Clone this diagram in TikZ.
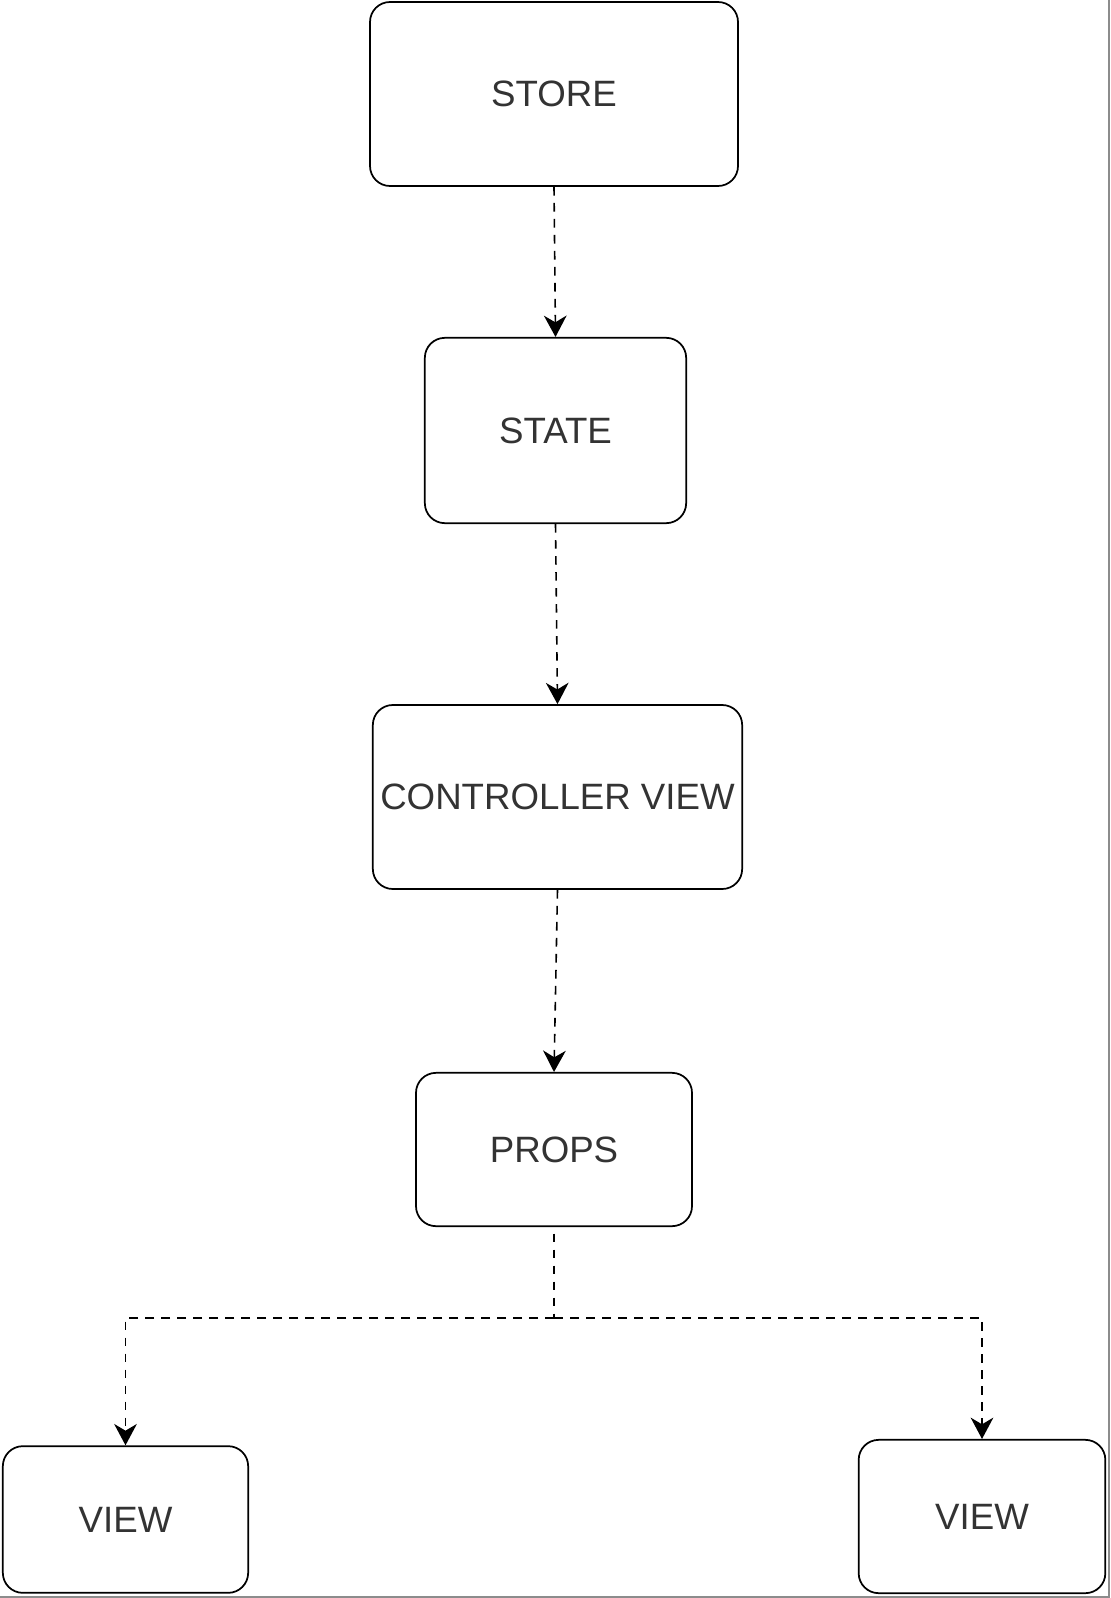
\documentclass[tikz,border=0pt]{standalone}
\usepackage{fontspec}
\setmainfont{Liberation Sans}
\usetikzlibrary{arrows.meta}

\begin{document}
\begin{tikzpicture}[x=0.75pt,y=-0.75pt,
    block/.style={draw=black,line width=1.3pt,rounded corners=15pt,
        inner sep=0pt,text=black!80,font=\fontsize{27.5}{30}\selectfont},
    flow/.style={draw=black,line width=1.2pt,dash pattern=on 6.5pt off 5.5pt,
        -{Stealth[length=16pt,width=17pt,inset=5pt]}}]
    \useasboundingbox (0,0) rectangle (1110,1598);
    \draw[black!45,line width=1pt] (1109,0) -- (1109,1597) -- (0,1597);
    \node[block,minimum width=276pt,minimum height=138pt] (store) at (554,94) {STORE};
    \node[block,minimum width=196pt,minimum height=139pt] (state) at (555.5,430.5) {STATE};
    \node[block,minimum width=277pt,minimum height=138pt] (ctrl) at (557.5,797) {CONTROLLER VIEW};
    \node[block,minimum width=207pt,minimum height=115pt] (props) at (554,1149.5) {PROPS};
    \node[block,minimum width=184pt,minimum height=110pt] (viewl) at (125.5,1519.5) {VIEW};
    \node[block,minimum width=185pt,minimum height=115pt] (viewr) at (982,1516.5) {VIEW};
    \coordinate (split) at (554,1318);
    \draw[flow] (store.south) -- (state.north);
    \draw[flow] (state.south) -- (ctrl.north);
    \draw[flow] (ctrl.south) -- (props.north);
    \draw[flow,-] ([yshift=-5pt]props.south) -- (split);
    \draw[flow] (split) -| (viewl.north);
    \draw[flow] (split) -| (viewr.north);
\end{tikzpicture}
\end{document}
